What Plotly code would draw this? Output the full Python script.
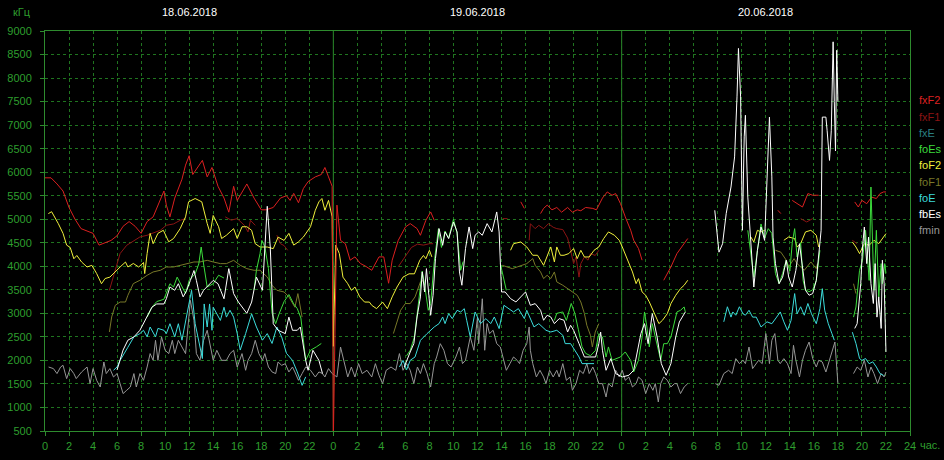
import plotly.graph_objects as go

# ---------------- data (hours from 18.06.2018 00:00, values in kHz) ----------------
DATES = ["18.06.2018", "19.06.2018", "20.06.2018"]
Y_TICKS = list(range(500, 9001, 500))
X_TICKS = list(range(0, 73, 2))
X_TICK_TEXT = [str(t % 24) if t < 72 else "24" for t in X_TICKS]

FXF2_H = [0, 0.5, 1, 1.5, 2, 2.5, 3, 3.5, 4, 4.5, 5, 5.5, 6, 6.5, 7, 7.5, 8, 8.5, 9, 9.5, 9.9, 10.1, 10.4, 10.8,
          11.4, 11.7, 12, 12.3, 12.8, 13.1, 13.5, 13.9, 14.4, 14.9, 15.3, 15.7, 16, 16.8, 17.4, 18, 18.4, 19,
          19.6, 20.1, 20.4, 20.7, 21.1, 21.5, 21.9, 22.5, 23, 23.3, 23.6, 23.9, 24.0, 24.3, 24.6, 25.0, 25.4,
          25.8, 26.25, 26.7, 27.2, 27.8, 28.2, 28.6, 28.9, 29.4, 30.0, 30.4, 30.97, 31.25, 31.7, 32.1, 32.4,
          None, 39.6, 39.9, None, 41.25, 41.5, 41.8, 42.2, 42.6, 43.0, 43.5, 43.9, 44.3, 44.6, 45.0, 45.6, 45.9,
          46.4, 46.8, 47.2, 47.5, 47.9, 48.3, 48.75, 49.0, 49.4, 49.7, None, 51.5, 52.1, 52.6, 53.5,
          None, 61.0, 61.25, None, 62.2, 62.6, 63.05, 63.5, 63.9, 64.4,
          None, 67.4, 67.7, 68.0, 68.4, 68.8, 69.2, 69.5, 69.8, 70.0]
FXF2_V = [5880, 5880, 5750, 5600, 5250, 5000, 4800, 4750, 4700, 4450, 4500, 4550, 4650, 4850, 4950, 4850, 4700, 4950,
          5050, 5350, 5600, 5300, 5050, 5450, 5850, 6150, 6350, 5950, 6150, 6250, 5900, 6100, 5700, 5450, 5150,
          5700, 5400, 5750, 5450, 5200, 5200, 5250, 5450, 5500, 5400, 5550, 5350, 5650, 5800, 5900, 5950, 6100,
          5900, 5700, 300, 5300, 4550, 4480, 4130, 4200, 4060, 4000, 3915, 4200, 4200, 3640, 4130, 4550, 4835,
          4907, 4801, 4659, 4977, 5155, 4977,
          None, 5370, 5230, None, 5120, 5230, 5300, 5200, 5250, 5150, 5250, 5150, 5200, 5180, 5250, 5230, 5200,
          5450, 5580, 5510, 5545, 5332, 5050, 4767, 4555, 4377, 4130, None, 3703, 3987, 4270, 4590,
          None, 5190, 5120, None, 5400, 5330, 5260, 5545, 5510, 5510,
          None, 5367, 5260, 5400, 5330, 5470, 5440, 5545, 5580, 5580]

FXF1_H = [5.36, 5.7, 6.0, 6.25, 6.8, 7.4, 7.9, 8.5, 9.0, 9.6, 10.1, 10.7, 11.25, 11.7,
          None, 15.0, 15.5, 16.0, 16.6, 16.9, 17.1, 17.5, None, 19.3, 19.6, 19.9, 20.2,
          None, 29.4, 30.0, 30.5, 31.0, 31.5, 32.0, 32.3, None, 38.1, 38.5,
          None, 40.3, 40.4, 40.8, 41.1, 41.5, 41.9, 42.3, 42.6, 43.1, 43.5, 43.75, 44.0, 44.2, 44.45, 44.6,
          44.9, 45.2, 45.4, 45.8, 46.1, None, 62.9, 63.4, 63.9, None, 67.2, 67.6]
FXF1_V = [3490, 3800, 4057, 4270, 4446, 4552, 4623, 4659, 4700, 4765, 4871, 4900, 4977, 5013,
          None, 5050, 4980, 5013, 4870, 4730, 4977, 4870, None, 4660, 4480, 4440, 4340,
          None, 3990, 4200, 4400, 4470, 4450, 4480, 4480, None, 5013, 5013,
          None, 4550, 4905, 4800, 4870, 4800, 4905, 4830, 4800, 4780, 4600, 4340, 4057, 4200, 3770, 4057,
          4200, 4130, 4270, 4230, 4340, None, 5013, 4942, 5013, None, 4552, 4480]

FOF2_H = [0.28, 0.55, 1.1, 1.5, 1.8, 2.1, 2.4, 2.65, 3.05, 3.5, 3.9, 4.3, 4.7, 5.0, 5.4, 5.8, 6.25, 6.7, 6.9,
          7.35, 7.8, 8.2, 8.3, 8.5, 8.75, 9.0, 9.4, 9.85, 10.3, 10.7, 11.25, 11.7, 11.95, 12.5, 13.05, 13.5,
          13.75, 14.0, 14.45, 14.7, 15.1, 15.7, 16.0, 16.4, 16.8, 17.2, 17.5, 17.9, 18.5, 19.0, 19.4, 19.9,
          20.3, 20.7, 21.1, 21.5, 22.1, 22.5, 22.8, 23.05, 23.3, 23.6, 23.9, 24.0, 24.2, 24.5, 24.8, 25.2,
          25.5, 25.8, 26.2, 26.6, 27.0, 27.2, 27.6, 28.1, 28.5, 28.9, 29.3, 29.8, 30.3, 30.75, 31.0, 31.2,
          31.5, 31.7, 32.0, 32.2, None, 38.75, 39.0, 39.6, 40.1, 40.6, 41.0, 41.5, 41.8, 42.1, 42.4, 42.6,
          42.9, 43.2, 43.6, 44.0, 44.3, 44.6, 44.9, 45.3, 45.7, 46.1, 46.5, 46.9, 47.4, 47.8, 48.05, 48.5,
          48.9, 49.2, 49.4, 49.7, 50.0, 50.3, 50.7, 51.1, 51.4, 51.8, 52.1, 52.5, 52.9, 53.2, 53.5,
          None, 58.75, 59.0, 59.3, 59.6, 59.9, None, 61.5, 61.9, 62.4, 62.6, 62.9, 63.3, 63.75, 64.2, 64.4,
          None, 67.2, 67.5, 67.8, 68.2, 68.6, 69.0, 69.4, 69.7, 70.0]
FOF2_V = [5120, 5160, 4910, 4700, 4450, 4400, 4160, 4230, 4090, 3985, 4020, 3845, 3630, 3740, 3770, 3880, 3985,
          4090, 3985, 4060, 3985, 4080, 3845, 4270, 4700, 4480, 4700, 4765, 4520, 4590, 4800, 5050, 5370, 5440,
          5370, 4910, 4700, 5080, 4840, 4590, 4660, 4800, 4590, 4840, 4840, 4765, 4480, 4410, 4410, 4375, 4620,
          4550, 4700, 4450, 4520, 4620, 4840, 5190, 5370, 5440, 5190, 5400, 5050, 2300, 4450, 4270, 3770, 3630,
          3490, 3560, 3350, 3240, 3240, 3170, 3100, 3240, 3100, 3350, 3560, 3770, 3840, 3840, 4000, 4130,
          4230, 4160, 4340, 4200, None, 4340, 4480, 4517, 4411, 4234, 4234, 4021, 4198, 4411, 4092, 4411,
          4234, 4234, 4270, 4376, 4163, 4340, 4198, 4198, 4340, 4411, 4588, 4730, 4660, 4553, 4411, 4127,
          3880, 3632, 3738, 3455, 3384, 3242, 2994, 2782, 2853, 2994, 3207, 3384, 3526, 3597, 3703,
          None, 4623, 4517, 4765, 4730, 4765, None, 4552, 4623, 4588, 4410, 4482, 4730, 4765, 4659, 4410,
          None, 4517, 4410, 4270, 4482, 4446, 4552, 4482, 4588, 4694]

FOF1_H = [5.36, 5.55, 5.85, 6.25, 6.7, 6.9, 7.35, 7.9, 8.5, 9.0, 9.6, 10.1, 10.7, 11.25, 11.8, 12.4, 12.9, 13.5,
          14.0, 14.6, 15.1, 15.7, 16.25, 16.8, 17.4, 17.9, 18.5, 18.9, 19.3, 19.9, 20.3, 20.8, 21.05, 21.4,
          None, 29.0, 29.3, 29.6, 30.0, 30.4, 30.8, 31.25, 31.5, None, 38.06, 38.5, 38.9, 39.3, 39.7, 40.1,
          40.6, 40.8, 41.25, 41.5, 41.8, 42.1, 42.4, 42.6, 43.1, 43.5, 44.0, 44.3, 44.6, 44.9, 45.1, 45.4,
          45.56, 45.8, 46.1, None, 60.8, 61.25, 61.7, 61.9, 62.35, 62.6, 63.2, 63.5, 63.75, 64.2, 64.3,
          None, 67.3, 67.5]
FOF1_V = [2604, 2923, 3171, 3241, 3241, 3384, 3632, 3703, 3809, 3880, 3915, 3985, 3985, 4021, 4057, 4092, 4092,
          4127, 4092, 4057, 4057, 4127, 4021, 3950, 3915, 3915, 3773, 3596, 3490, 3454, 3350, 3130, 3420, 2920,
          None, 2570, 2800, 3065, 3210, 3207, 3349, 3668, 3700, None, 4021, 3986, 3950, 3986, 4021, 4057,
          4163, 4021, 3880, 3738, 3809, 3738, 3880, 3668, 3597, 3526, 3455, 3384, 3242, 2994, 2746, 2534,
          2286, 2604, 2782, None, 4340, 4300, 4130, 3985, 4163, 4057, 3915, 4021, 4092, 3950, 4057,
          None, 3630, 3420]

FOE_H = [5.7, 6.0, 6.25, 6.5, 6.9, 7.4, 7.9, 8.2, 8.5, 8.75, 9.2, 9.4, 9.9, 10.1, 10.4, 10.8, 11.1, 11.4, 11.7,
         11.9, 12.2, 12.5, 12.8, 13.1, 13.25, 13.5, 13.7, 13.9, 14.0, 14.3, 14.6, 14.9, 15.1, 15.4, 15.7, 16.0,
         16.25, 16.7, 17.2, 17.6, 18.1, 18.5, 18.9, 19.3, 19.7, 20.1, 20.6, 21.0, 21.4, 21.7,
         None, 29.5, 29.8, 30.1, 30.4, 30.8, 31.25, 31.8, 32.4, 32.8, 33.1, 33.3, 33.6, 33.9, 34.3, 34.6,
         34.9, 35.1, 35.4, 35.8, 36.25, 36.7, 37.1, 37.4, 37.8, 38.2, 38.6, 39.0, 39.4, 39.9, 40.1, 40.7,
         41.1, 41.7, 42.1, 42.6, 43.1, 43.3, 43.75, 44.2, 44.45, 44.7, 45.1, 45.7,
         None, 56.5, 56.8, 57.1, 57.25, 57.5, 57.8, 58.1, 58.3, 58.6, 58.9, 59.2, 59.6, 60.1, 60.5, 60.9,
         61.2, 61.5, 61.8, 62.1, 62.4, 62.6, 62.9, 63.2, 63.5, 63.8, 64.2, 64.5, 64.7, 64.9, 65.2, 65.5, 65.7,
         None, 67.2, 67.5, 67.8, 68.0, 68.3, 68.6, 68.9, 69.2, 69.5, 69.8]
FOE_V = [1790, 1860, 2000, 2100, 2280, 2500, 2570, 2640, 2500, 2710, 2500, 2680, 2640, 2570, 2780, 2500, 2780, 2430,
         2850, 3130, 3490, 2780, 2430, 2040, 3200, 2710, 3200, 2640, 3130, 2990, 2850, 3130, 2920, 3065, 2920,
         2570, 2220, 2570, 2990, 2710, 2430, 2570, 2360, 2710, 2500, 2150, 2000, 1755, 1470, 1650,
         None, 1860, 2000, 1800, 2002, 2073, 2427, 2569, 2711, 2782, 2923, 2782, 2994, 2888, 3065, 3029,
         3100, 2853, 2498, 3029, 2782, 2888, 2782, 2923, 2676, 3171, 3100, 3029, 3100, 2888, 3065, 2711,
         2782, 2640, 2604, 2640, 2534, 2357, 2357, 2180, 2073, 1932, 1932, 1932,
         None, 2820, 3140, 2920, 3030, 2960, 3140, 2990, 2960, 3065, 2920, 2920, 2710, 2820, 2780, 2920,
         3030, 2820, 2640, 2850, 3420, 2990, 3140, 2960, 3210, 2990, 2780, 3100, 3525, 3065, 2780, 2570, 2430,
         None, 2600, 2360, 2040, 2000, 2040, 1930, 1970, 1860, 1720, 1680]

FOES_H = [8.5, 8.9, 9.3, 9.9, 10.4, 10.7, 11.0, 11.3, 11.7, 12.0, 12.5, 12.8, 13.0, 13.2, 13.5, 14.0, 14.45,
          14.9, None, 17.4, 17.6, 17.9, 18.05, 18.3, 18.6, 18.9, 19.2, 19.5, 19.9, 20.3, 20.7, 21.0, 21.3,
          21.7, 22.1, 22.6, 23.0, None, 30.1, 30.4, 30.75, 31.1, 31.4, 31.6, 31.9, 32.1, 32.4, 32.75, 33.0,
          33.3, 33.6, 34.0, 34.3, 34.6, 34.8, None, 37.9, 38.2, 38.4, None, 42.4, 42.6, 43.1, 43.4, 43.8,
          44.1, 44.4, 44.7, 45.0, 45.4, 45.83, 46.1, 46.4, 46.7, 46.9, 47.2, 47.9, 48.3, 48.75, 49.0, 49.4,
          49.7, 49.9, 50.1, 50.3, 50.55, 50.8, 51.25, 51.5, 51.8, 52.1, 52.4, 52.6, 52.9, 53.2, 53.3,
          None, 58.5, 58.75, 59.0, 59.3, 59.6, 59.9, 60.2, 60.5, 60.8, 61.1, 61.4, 61.7, 62.0, 62.2, 62.4,
          62.6, 62.9, 63.1, 63.3, 63.6, 63.9, 64.2, 64.5, None, 67.3, 67.5, 67.8, 68.05, 68.3, 68.6, 68.75,
          68.9, 69.0, 69.2, 69.4, 69.6, 69.7, 69.9, 70.0]
FOES_V = [2920, 3130, 3250, 3300, 3630, 3560, 3770, 3630, 3420, 3700, 3840, 4050, 4410, 4050, 3560, 3630, 3810,
          3750, None, 3500, 3915, 4270, 4550, 4410, 3950, 3000, 2780, 3000, 3250, 3400, 3200, 3100, 2900,
          2000, 2215, 2290, 2360, None, 2100, 2215, 2500, 3207, 3900, 3600, 3065, 3210, 4100, 4800, 4400,
          4750, 4600, 5000, 4700, 3915, 4100, None, 4057, 3700, 3490, None, 2850, 3000, 3030, 2850, 3210,
          3000, 2650, 2290, 2150, 2100, 2215, 2569, 2498, 2073, 2286, 2002, 2073, 2180, 2002, 1755, 2002,
          2498, 3030, 2710, 2286, 2782, 2498, 2002, 2356, 2356, 2498, 2782, 3030, 3065, 3136, 3030,
          None, 4765, 4270, 3770, 4340, 4900, 4600, 4800, 4700, 3850, 3630, 3850, 4130, 3900, 4500, 4800,
          4200, 4500, 3700, 3500, 3460, 3500, 3700, 4340, None, 2920, 3135, 3915, 4130, 4765, 3700, 5685,
          4480, 3490, 4765, 3350, 4057, 3630, 4057, 3850]

FBES_H = [6.0, 6.5, 6.9, 7.4, 7.9, 8.5, 8.9, 9.3, 9.9, 10.1, 10.4, 10.8, 11.1, 11.5, 11.8, 12.1, 12.4, 12.6,
          12.9, 13.2, 13.6, 14.0, 14.4, 14.9, 15.3, 15.7, 16.1, 16.5, 16.8, 17.2, 17.6, 18.1, 18.3, 18.5,
          18.75, 18.9, 19.0, 19.4, 20.0, 20.3, 20.6, 21.0, 21.25, 21.7, 21.9, 22.3, 22.8, 23.1,
          None, 29.9, 30.1, 30.4, 30.7, 30.97, 31.25, 31.4, 31.6, 31.75, 31.95, 32.1, 32.3, 32.5, 32.8,
          33.1, 33.3, 33.6, 34.0, 34.3, 34.5, 34.7, 35.0, 35.3, 35.6, 35.8, 36.1, 36.4, 36.8, 37.2, 37.6,
          37.8, 38.0, 38.3, 38.75, 39.2, 39.6, 40.0, 40.4, 40.8, 41.25, 41.5, 41.8, 42.1, 42.4, 42.8, 43.2,
          43.5, 43.75, 44.0, 44.45, 44.9, 45.3, 45.83, 46.1, 46.25, 46.4, 46.7, 47.1, 47.5, 48.05, 48.6,
          49.0, 49.3, 49.6, 49.9, 50.2, 50.55, 50.95, 51.3, 51.7, 52.1, 52.5, 52.8, 53.05, 53.3,
          None, 55.75, 55.97, 56.1, 56.4, 56.7, 57.1, 57.4, 57.6, 57.72, 57.9, 58.0, 58.05, 58.2, 58.3,
          58.5, 58.75, 59.0, 59.3, 59.6, 59.9, 60.1, 60.3, 60.5, 60.6, 60.8, 61.1, 61.4, 61.7, 61.9, 62.2,
          62.5, 62.8, 63.05, 63.3, 63.6, 63.9, 64.2, 64.4, 64.6, 64.7, 65.0, 65.1, 65.3, 65.45, 65.6, 65.7,
          65.8, 65.9, 66.0, None, 67.4, 67.6, 67.9, 68.05, 68.2, 68.4, 68.55, 68.75, 68.95, 69.1, 69.25,
          69.4, 69.6, 69.7, 69.85, 70.0]
FBES_V = [1800, 2220, 2430, 2500, 2640, 2920, 3130, 3200, 3200, 3310, 3560, 3490, 3630, 3350, 3490, 3700, 3910,
          3700, 3350, 3490, 3600, 3700, 3630, 3310, 3950, 3420, 3240, 3100, 3000, 3240, 3770, 3490, 4410,
          5275, 4410, 3560, 2780, 2640, 2570, 2920, 2640, 2640, 2710, 2000, 1790, 2215, 2000, 1720,
          None, 1860, 2000, 2180, 2357, 2923, 3349, 3880, 3455, 3950, 3384, 2959, 3384, 4163, 4801,
          4446, 4730, 4588, 4942, 4730, 3880, 3597, 4376, 4836, 4376, 4659, 4730, 4659, 4907, 4730, 5155,
          4730, 3455, 3455, 3313, 3242, 3349, 3455, 3171, 3207, 3065, 2853, 2959, 2923, 2782, 2888, 2853,
          2604, 2746, 2640, 2357, 2073, 2073, 2073, 2356, 2604, 2215, 1790, 2038, 1720, 1648, 1684,
          1790, 2215, 2569, 2782, 2356, 2994, 2498, 1932, 1684, 1932, 2498, 2817, 2923, 3030,
          None, 5190, 4620, 4300, 4480, 5120, 5685, 6325, 7600, 8630, 7600, 5830, 4765, 6750, 7210,
          5470, 4480, 3560, 4340, 4835, 4550, 5830, 7170, 5900, 4620, 4057, 3630, 3770, 4130, 3770, 3560,
          3915, 4480, 3985, 3490, 3385, 3420, 3700, 4200, 4765, 7170, 7170, 6890, 6250, 6890, 8770, 7500,
          6450, 8590, 7500, None, 2680, 2780, 3630, 4410, 4835, 4057, 4620, 3630, 3210, 4057, 2920,
          3350, 2680, 4130, 3630, 2180]

FMIN_H = [0.3, 0.7, 1.0, 1.3, 1.5, 1.8, 2.1, 2.4, 2.6, 3.05, 3.5, 3.75, 4.0, 4.3, 4.6, 4.9, 5.1, 5.4, 5.7, 6.0,
          6.25, 6.5, 6.8, 7.1, 7.4, 7.6, 7.9, 8.2, 8.5, 8.75, 9.0, 9.2, 9.4, 9.7, 10.0, 10.3, 10.6, 10.8, 11.1,
          11.4, 11.7, 11.9, 12.1, 12.4, 12.6, 12.9, 13.2, 13.5, 13.75, 14.0, 14.3, 14.7, 15.1, 15.4, 15.7, 16.0,
          16.4, 16.7, 16.9, 17.2, 17.5, 17.8, 18.1, 18.3, 18.6, 18.9, 19.2, 19.4, 19.7, 20.0, 20.3, 20.6, 20.8,
          21.1, 21.4, 21.7, 22.1, 22.5, 22.8, 23.1, 23.3, 23.6, 23.9, 24.0, 24.3, 24.6, 24.9, 25.2, 25.5,
          25.8, 26.1, 26.4, 26.8, 27.2, 27.5, 27.8, 28.1, 28.4, 28.8, 29.2, 29.5, 29.8, 30.1, 30.4, 30.7,
          31.0, 31.25, 31.5, 31.8, 32.1, 32.4, 32.6, 32.9, 33.2, 33.5, 33.8, 34.2, 34.5, 34.75, 35.0, 35.4,
          35.7, 36.0, 36.1, 36.4, 36.6, 36.8, 37.0, 37.3, 37.6, 37.9, 38.2, 38.4, 38.7, 39.0, 39.3, 39.5,
          39.8, 40.1, 40.3, 40.4, 40.6, 40.9, 41.2, 41.5, 41.7, 42.0, 42.3, 42.6, 42.8, 43.1, 43.4, 43.7,
          43.9, 44.2, 44.5, 44.8, 45.1, 45.3, 45.6, 45.83, 46.1, 46.4, 46.7, 46.9, 47.2, 47.5, 47.8, 48.05,
          48.3, 48.6, 48.9, 49.2, 49.4, 49.7, 50.0, 50.3, 50.6, 50.8, 51.05, 51.25, 51.5, 51.8, 52.1, 52.4,
          52.6, 52.9, 53.2, 53.5, None, 55.8, 56.1, 56.5, 56.9, 57.2, 57.5, 57.8, 58.1, 58.3, 58.6, 58.9,
          59.2, 59.4, 59.7, 60.0, 60.3, 60.5, 60.75, 61.0, 61.2, 61.5, 61.8, 62.1, 62.3, 62.5, 62.8, 63.05,
          63.3, 63.6, 63.9, 64.2, 64.4, 64.7, 65.0, 65.3, 65.6, 65.75, 66.0, None, 67.3, 67.6, 67.9, 68.2,
          68.5, 68.75, 69.0, 69.3, 69.6, 69.85, 70.0]
FMIN_V = [1860, 1826, 1720, 1860, 1896, 1613, 1826, 1720, 1613, 1755, 1860, 1507, 1826, 1577, 1435, 1966, 1720,
          1826, 1648, 1720, 1507, 1295, 1365, 1435, 1720, 1435, 1720, 1577, 1860, 2145, 2002, 2427, 2002, 2498,
          2215, 2145, 2427, 2145, 2427, 2285, 2145, 2710, 3277, 2852, 2145, 2002, 2427, 2640, 2285, 2002, 2215,
          2002, 2002, 2145, 2215, 1860, 2145, 1790, 2002, 2145, 2427, 2145, 2002, 2145, 1860, 1755, 1720, 1966,
          1896, 1930, 1755, 1860, 1755, 1577, 1720, 1860, 1790, 1648, 1755, 1720, 1648, 1826, 1720, 1700,
          1648, 2285, 1932, 1648, 1860, 1648, 1932, 1720, 1790, 1648, 1932, 1684, 1507, 1790, 1860, 1790,
          2145, 1790, 1932, 1790, 1507, 1860, 1720, 1932, 1720, 1435, 1932, 2073, 2356, 2215, 1932, 1860,
          2073, 2285, 1932, 2002, 2498, 2215, 2923, 2356, 3310, 2215, 2782, 2569, 2640, 2356, 2285, 2002,
          1790, 1932, 2073, 2002, 1932, 2215, 2356, 2710, 2215, 1932, 1648, 1790, 1648, 1507, 1790, 1648,
          1790, 1648, 1932, 1577, 1648, 1365, 1507, 1790, 1720, 1932, 1720, 1860, 1720, 1507, 1507, 1223,
          1507, 1435, 1790, 1648, 1790, 1577, 1648, 1435, 1507, 1648, 1577, 1295, 1507, 1365, 1507, 1117,
          1507, 1648, 1577, 1435, 1507, 1507, 1295, 1435, 1507, None, 1507, 1471, 1720, 1790, 1720, 2038,
          1932, 2003, 1932, 2285, 1826, 1932, 2003, 1932, 2570, 1932, 2427, 2570, 2003, 1932, 2038, 1932,
          1720, 2321, 2003, 1648, 2003, 2215, 2391, 2038, 1860, 2003, 1966, 1754, 2003, 2215, 2391, 1507,
          None, 1720, 1860, 1790, 2003, 1648, 1860, 1720, 1507, 1720, 1648, 1754]

# legend entries (name, colour) in the reference order
LEGEND = [("fxF2", "#dc2020"), ("fxF1", "#8c1414"), ("fxE", "#2a7f80"), ("foEs", "#3cdc3c"),
          ("foF2", "#f0f03c"), ("foF1", "#787828"), ("foE", "#3cdcdc"), ("fbEs", "#ffffff"),
          ("fmin", "#969696")]
COLORS = dict(LEGEND)

# drawing order (bottom -> top)
TRACES = [("fmin", FMIN_H, FMIN_V), ("foF1", FOF1_H, FOF1_V), ("fxF1", FXF1_H, FXF1_V),
          ("foF2", FOF2_H, FOF2_V), ("fxF2", FXF2_H, FXF2_V), ("foE", FOE_H, FOE_V),
          ("foEs", FOES_H, FOES_V), ("fbEs", FBES_H, FBES_V)]

GREEN_TXT = "#2e9e2e"
GRID = "#1f741f"
AXIS = "#2e8b2e"
FONT = "Liberation Sans, Arial, sans-serif"

fig = go.Figure()
for name, h, v in TRACES:
    fig.add_trace(go.Scatter(x=h, y=v, mode="lines", name=name, connectgaps=False,
                             line=dict(color=COLORS[name], width=1), hoverinfo="skip", showlegend=False))

W, H = 944, 460
L, R, T, B = 45, 34, 31, 29
pw, ph = W - L - R, H - T - B


def px_x(p):
    return (p - L) / pw


def px_y(p):
    return (H - B - p) / ph


fig.update_layout(
    width=W, height=H, margin=dict(l=L, r=R, t=T, b=B, autoexpand=False),
    paper_bgcolor="black", plot_bgcolor="black", showlegend=False,
    font=dict(family=FONT, size=11, color=GREEN_TXT),
    xaxis=dict(range=[0, 72], tickmode="array", tickvals=X_TICKS, ticktext=X_TICK_TEXT,
               showgrid=True, gridcolor=GRID, gridwidth=1, griddash="3px,3px",
               showline=True, linecolor=AXIS, linewidth=1, mirror=True,
               ticks="outside", ticklen=4, tickcolor=AXIS, zeroline=False, automargin=False,
               ticklabelstandoff=1,
               tickfont=dict(family=FONT, size=11, color=GREEN_TXT), fixedrange=True),
    yaxis=dict(range=[500, 9000], tickmode="array", tickvals=Y_TICKS,
               showgrid=True, gridcolor=GRID, gridwidth=1, griddash="3px,3px",
               showline=True, linecolor=AXIS, linewidth=1, mirror=True,
               ticks="outside", ticklen=4, tickcolor=AXIS, zeroline=False, automargin=False,
               ticklabelstandoff=6,
               tickfont=dict(family=FONT, size=11, color=GREEN_TXT), fixedrange=True),
)

# day separators
for d in (24, 48):
    fig.add_shape(type="line", xref="x", yref="paper", x0=d, x1=d, y0=0, y1=1,
                  line=dict(color=AXIS, width=1), layer="below")

# dates above the plot
for i, dt in enumerate(DATES):
    fig.add_annotation(x=12 + 24 * i, xref="x", y=px_y(12), yref="paper", text=dt, showarrow=False,
                       font=dict(family=FONT, size=11, color="white"), xanchor="center", yanchor="middle")

fig.add_annotation(x=px_x(22), xref="paper", y=px_y(12), yref="paper", text="кГц", showarrow=False,
                   font=dict(family=FONT, size=11, color=GREEN_TXT), xanchor="center", yanchor="middle")
fig.add_annotation(x=px_x(918), xref="paper", y=px_y(445), yref="paper", text="час.", showarrow=False,
                   font=dict(family=FONT, size=11, color=GREEN_TXT), xanchor="left", yanchor="middle")

# legend as text
for i, (name, col) in enumerate(LEGEND):
    fig.add_annotation(x=px_x(917), xref="paper", y=px_y(100.5 + 16.2 * i), yref="paper", text=name,
                       showarrow=False, font=dict(family=FONT, size=11, color=col),
                       xanchor="left", yanchor="middle")

fig.write_html("out.html", config={"displayModeBar": False},
               post_script="document.body.style.margin='0';")
